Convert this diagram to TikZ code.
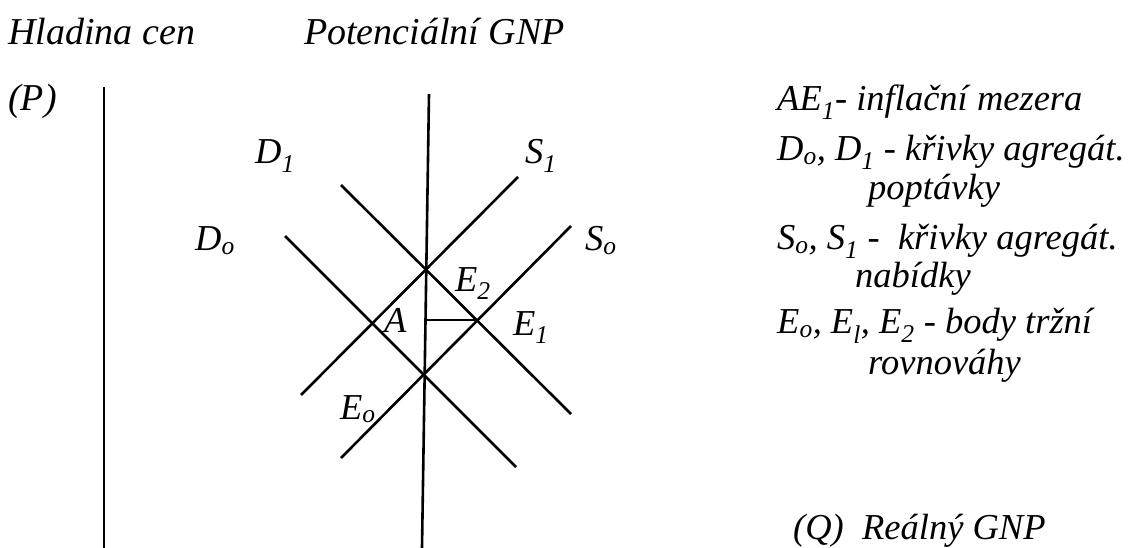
\documentclass[tikz,border=0pt]{standalone}
\usepackage{fontspec}
\setmainfont{Liberation Serif}
\tikzset{
  ax/.style={line width=2.6pt, line cap=butt},
  crv/.style={line width=2.6pt},
  lbl/.style={inner sep=0pt, anchor=base west, font=\fontsize{36.5}{42}\selectfont\itshape},
  hdr/.style={lbl, font=\fontsize{38}{44}\selectfont\itshape},
}
\newcommand{\sbs}[1]{\textsubscript{#1}}
\begin{document}
\begin{tikzpicture}[x=1pt,y=-1pt]
\useasboundingbox (0,0) rectangle (1128,548);
% axes
\coordinate (Ptop) at (104,87);
\coordinate (Pbot) at (104,548);
\coordinate (Gtop) at (429,94);
\coordinate (Gbot) at (422,548);
\draw[ax] (Ptop) -- (Pbot);
\draw[ax] (Gtop) -- (Gbot);
% curves
\coordinate (D1a) at (341,185);
\coordinate (D1b) at (571,414);
\coordinate (D0a) at (285,236);
\coordinate (D0b) at (516,467);
\coordinate (S1a) at (301,395);
\coordinate (S1b) at (518,177);
\coordinate (S0a) at (341,458);
\coordinate (S0b) at (571,226);
\draw[crv] (D1a) -- (D1b);
\draw[crv] (D0a) -- (D0b);
\draw[crv] (S1a) -- (S1b);
\draw[crv] (S0a) -- (S0b);
% inflation gap
\coordinate (Ag) at (426,320);
\coordinate (E1p) at (476,320);
\draw[crv] (Ag) -- (E1p);
% titles
\node[hdr] (hl) at (8,45) {Hladina cen};
\node[hdr] (pg) at (304,45) {Potenciální GNP};
\node[hdr] (pp) at (8,111) {(P)};
\node[lbl] (q) at (793,539) {(Q)\ \ Reálný GNP};
% curve labels
\node[lbl] (d1) at (255,164) {D\sbs{1}};
\node[lbl] (s1) at (525,164) {S\sbs{1}};
\node[lbl] (d0) at (195,251) {D\sbs{o}};
\node[lbl] (s0) at (585,251) {S\sbs{o}};
\node[lbl] (e2) at (455,291) {E\sbs{2}};
\node[lbl] (a) at (384,333) {A};
\node[lbl] (e1) at (513,335) {E\sbs{1}};
\node[lbl] (e0) at (340,419) {E\sbs{o}};
% legend
\node[lbl] (l1) at (777,111) {AE\sbs{1}- inflační mezera};
\node[lbl] (l2) at (777,161) {D\sbs{o}, D\sbs{1} - křivky agregát.};
\node[lbl] (l3) at (868,200) {poptávky};
\node[lbl] (l4) at (777,250) {S\sbs{o}, S\sbs{1} -\ \ křivky agregát.};
\node[lbl] (l5) at (855,288) {nabídky};
\node[lbl] (l6) at (777,334) {E\sbs{o}, E\sbs{l}, E\sbs{2} - body tržní};
\node[lbl] (l7) at (868,374) {rovnováhy};
\end{tikzpicture}
\end{document}
